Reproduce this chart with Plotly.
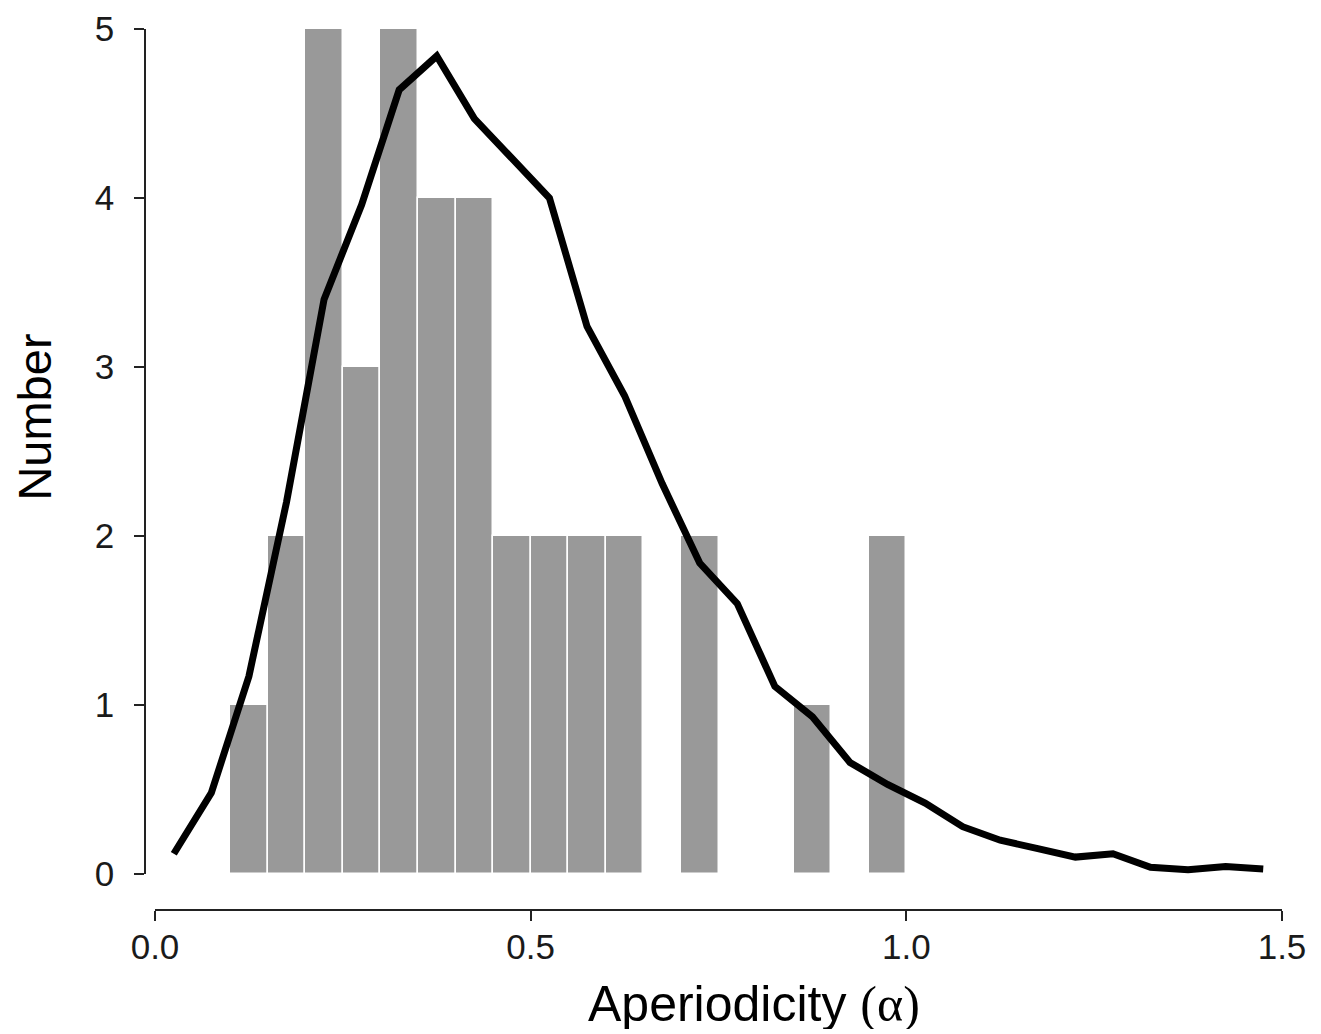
import plotly.graph_objects as go

# -- Histogram counts (bins of width 0.05 starting at 0.10)
bin_left = [0.10, 0.15, 0.20, 0.25, 0.30, 0.35, 0.40, 0.45, 0.50,
            0.55, 0.60, 0.65, 0.70, 0.75, 0.80, 0.85, 0.90, 0.95]
counts = [1, 2, 5, 3, 5, 4, 4, 2, 2, 2, 2, 0, 2, 0, 0, 1, 0, 2]
bin_width = 0.05

# -- Smoothed curve
curve_x = [0.025, 0.075, 0.125, 0.175, 0.225, 0.275, 0.325, 0.375, 0.425, 0.475,
           0.525, 0.575, 0.625, 0.675, 0.725, 0.775, 0.825, 0.875, 0.925, 0.975,
           1.025, 1.075, 1.125, 1.175, 1.225, 1.275, 1.325, 1.375, 1.425, 1.475]
curve_y = [0.12, 0.48, 1.17, 2.20, 3.40, 3.96, 4.64, 4.84, 4.47, 4.24,
           4.00, 3.24, 2.83, 2.31, 1.84, 1.60, 1.11, 0.93, 0.66, 0.53,
           0.42, 0.28, 0.20, 0.15, 0.10, 0.12, 0.04, 0.025, 0.045, 0.03]

x_ticks = [0.0, 0.5, 1.0, 1.5]
x_ticklabels = ['0.0', '0.5', '1.0', '1.5']
y_ticks = [0, 1, 2, 3, 4, 5]

bar_centers = [b + bin_width / 2 for b in bin_left]

fig = go.Figure()
fig.add_trace(go.Bar(
    x=bar_centers, y=counts, width=bin_width,
    marker=dict(color='#999999', line=dict(color='white', width=1.5)),
    showlegend=False
))
fig.add_trace(go.Scatter(
    x=curve_x, y=curve_y, mode='lines',
    line=dict(color='black', width=7),
    showlegend=False
))

font_main = 'Liberation Sans, Arial, Helvetica, sans-serif'

# -- Layout: detached R-style axes (page body has an 8px margin)
fig.update_layout(
    width=1313, height=1026,
    margin=dict(l=137, r=39, t=21, b=124),
    plot_bgcolor='white', paper_bgcolor='white',
    font=dict(family=font_main, color='#1a1a1a', size=35),
    bargap=0,
)
fig.update_xaxes(
    domain=[10 / 1137, 1], anchor='free', position=0,
    range=[0, 1.5], tickvals=x_ticks, ticktext=x_ticklabels,
    showline=True, linecolor='#222222', linewidth=1.5,
    ticks='outside', ticklen=10, tickwidth=1.5, tickcolor='#222222',
    ticklabelstandoff=-4, automargin=False,
    showgrid=False, zeroline=False,
)
fig.update_yaxes(
    domain=[36 / 881, 1], anchor='free', position=0,
    range=[0, 5], tickvals=y_ticks,
    showline=True, linecolor='#222222', linewidth=1.5,
    ticks='outside', ticklen=10, tickwidth=1.5, tickcolor='#222222',
    ticklabelstandoff=13, automargin=False,
    showgrid=False, zeroline=False,
)

# -- Axis titles (placed like R's mtext, slightly off-centre)
fig.add_annotation(
    text='Aperiodicity <span style="font-family:Liberation Serif, Times New Roman, serif">(α)</span>',
    xref='paper', yref='paper', x=0.5356, y=-0.1067,
    xanchor='center', yanchor='middle', showarrow=False,
    height=50, borderpad=0,
    font=dict(size=50, color='black'),
)
fig.add_annotation(
    text='Number',
    xref='paper', yref='paper', x=-0.0976, y=0.5596,
    xanchor='center', yanchor='middle', showarrow=False, textangle=-90,
    width=170, height=40, borderpad=0,
    font=dict(size=47, color='black'),
)

fig.write_html('out.html')
